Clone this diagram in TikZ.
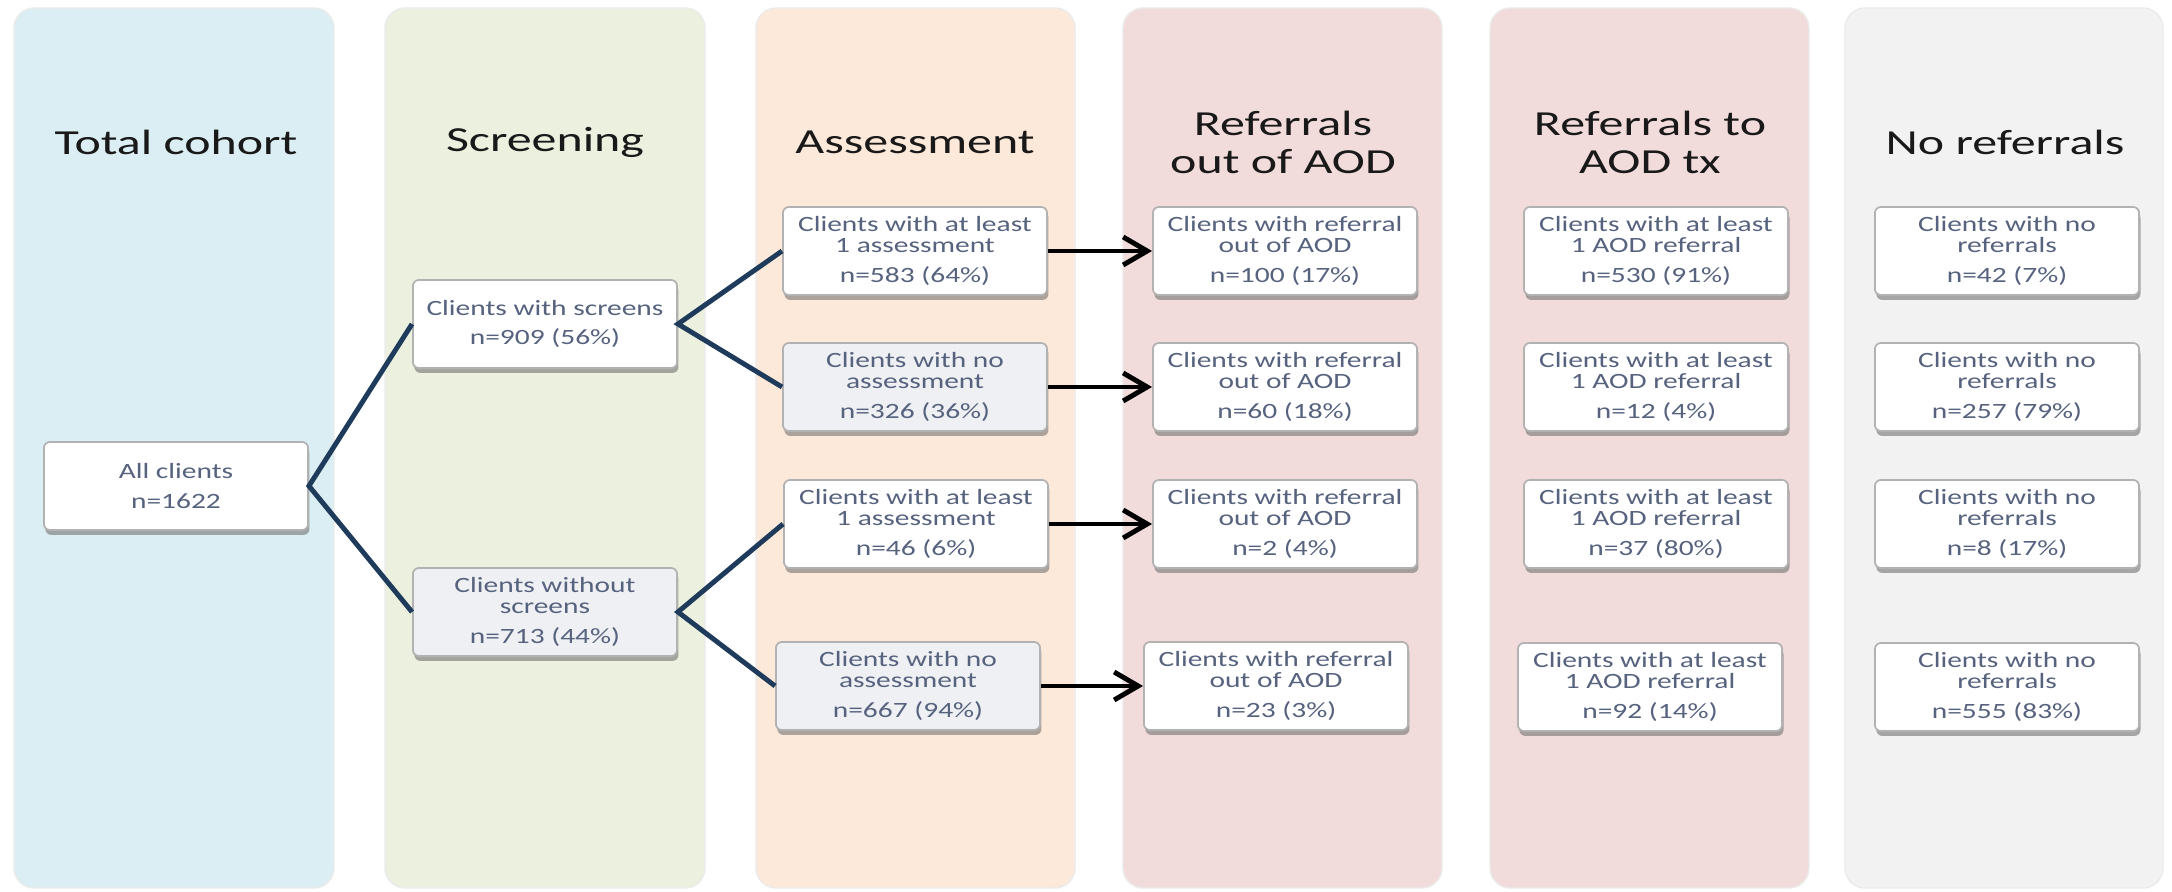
\documentclass[tikz,border=0pt]{standalone}
\usepackage{fontspec}
\setmainfont{Carlito}
\newfontfamily\headfont[FakeStretch=1.42]{Carlito}
\newfontfamily\cellfont[FakeStretch=1.35]{Carlito}
\usetikzlibrary{arrows.meta,shadows}

\definecolor{cohortblue}{HTML}{DAEEF3}
\definecolor{screengreen}{HTML}{EBF1DE}
\definecolor{assesspeach}{HTML}{FDE9D9}
\definecolor{referpink}{HTML}{F2DCDB}
\definecolor{norefgrey}{HTML}{F2F2F2}
\definecolor{branchnavy}{HTML}{1F3B5C}
\definecolor{celltext}{HTML}{56627E}
\definecolor{cellgrey}{HTML}{EEF0F3}

\begin{document}
\begin{tikzpicture}[x=0.01cm, y=-0.01cm,
    column/.style={rounded corners=0.2cm, draw=black!8, line width=0.4pt},
    heading/.style={font=\headfont\fontsize{10}{10.8}\selectfont, align=center, text=black!90},
    cell/.style={draw=black!30, line width=0.5pt, fill=white, rounded corners=0.06cm,
        minimum width=2.64cm, minimum height=0.88cm, inner sep=0pt, align=center,
        text=celltext, font=\cellfont\fontsize{6.2}{6}\selectfont,
        drop shadow={shadow xshift=0.4pt, shadow yshift=-1.4pt, fill=black!55, opacity=0.6}},
    nocell/.style={cell, fill=cellgrey},
    branch/.style={draw=branchnavy, line width=1.4pt},
    flow/.style={draw=black, line width=1.3pt, -{Straight Barb[length=0.24cm, width=0.28cm, line width=1.4pt]}}
]
    \useasboundingbox[fill=white] (0,0) rectangle (2172,892);

    % Total cohort
    \draw[column, fill=cohortblue] (14,8) rectangle (334,888);
    \node[heading] (cohorthead) at (176,142) {Total cohort};
    \node[cell] (total) at (176,486) {All clients\\[2.4pt]n=1622};

    % Screening
    \draw[column, fill=screengreen] (385,8) rectangle (705,888);
    \node[heading] (screenhead) at (545,142) {Screening};
    \node[cell] (scr) at (545,324) {Clients with screens\\[2.4pt]n=909 (56\%)};
    \node[nocell] (noscr) at (545,612) {Clients without\\screens\\[2.4pt]n=713 (44\%)};

    % Assessment
    \draw[column, fill=assesspeach] (756,8) rectangle (1075,888);
    \node[heading] (assesshead) at (915,142) {Assessment};
    \node[cell] (asm1) at (915,251) {Clients with at least\\1 assessment\\[2.4pt]n=583 (64\%)};
    \node[nocell] (noasm1) at (915,387) {Clients with no\\assessment\\[2.4pt]n=326 (36\%)};
    \node[cell] (asm2) at (916,524) {Clients with at least\\1 assessment\\[2.4pt]n=46 (6\%)};
    \node[nocell] (noasm2) at (908,686) {Clients with no\\assessment\\[2.4pt]n=667 (94\%)};

    % Referrals out of AOD
    \draw[column, fill=referpink] (1123,8) rectangle (1442,888);
    \node[heading] (outhead) at (1283,142) {Referrals\\out of AOD};
    \node[cell] (out1) at (1285,251) {Clients with referral\\out of AOD\\[2.4pt]n=100 (17\%)};
    \node[cell] (out2) at (1285,387) {Clients with referral\\out of AOD\\[2.4pt]n=60 (18\%)};
    \node[cell] (out3) at (1285,524) {Clients with referral\\out of AOD\\[2.4pt]n=2 (4\%)};
    \node[cell] (out4) at (1276,686) {Clients with referral\\out of AOD\\[2.4pt]n=23 (3\%)};

    % Referrals to AOD tx
    \draw[column, fill=referpink] (1490,8) rectangle (1809,888);
    \node[heading] (aodhead) at (1650,142) {Referrals to\\AOD tx};
    \node[cell] (aod1) at (1656,251) {Clients with at least\\1 AOD referral\\[2.4pt]n=530 (91\%)};
    \node[cell] (aod2) at (1656,387) {Clients with at least\\1 AOD referral\\[2.4pt]n=12 (4\%)};
    \node[cell] (aod3) at (1656,524) {Clients with at least\\1 AOD referral\\[2.4pt]n=37 (80\%)};
    \node[cell] (aod4) at (1650,687) {Clients with at least\\1 AOD referral\\[2.4pt]n=92 (14\%)};

    % No referrals
    \draw[column, fill=norefgrey] (1845,8) rectangle (2163,888);
    \node[heading] (norefhead) at (2005,142) {No referrals};
    \node[cell] (noref1) at (2007,251) {Clients with no\\referrals\\[2.4pt]n=42 (7\%)};
    \node[cell] (noref2) at (2007,387) {Clients with no\\referrals\\[2.4pt]n=257 (79\%)};
    \node[cell] (noref3) at (2007,524) {Clients with no\\referrals\\[2.4pt]n=8 (17\%)};
    \node[cell] (noref4) at (2007,687) {Clients with no\\referrals\\[2.4pt]n=555 (83\%)};

    % Branches
    \draw[branch] (scr.west) -- (total.east) -- (noscr.west);
    \draw[branch] (asm1.west) -- (scr.east) -- (noasm1.west);
    \draw[branch] (asm2.west) -- (noscr.east) -- (noasm2.west);

    % Arrows to referrals out of AOD
    \draw[flow] (asm1.east) -- (out1.west);
    \draw[flow] (noasm1.east) -- (out2.west);
    \draw[flow] (asm2.east) -- (out3.west);
    \draw[flow] (noasm2.east) -- (out4.west);
\end{tikzpicture}
\end{document}
